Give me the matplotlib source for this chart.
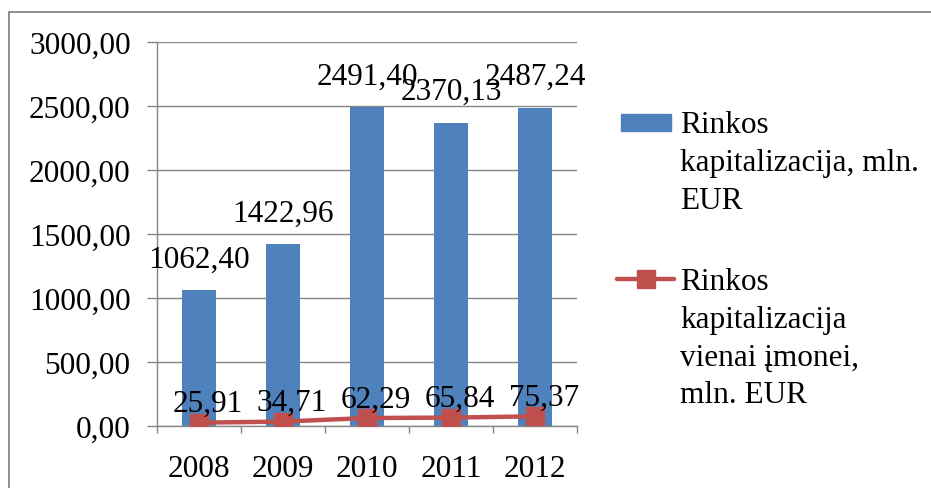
import matplotlib
matplotlib.use("Agg")
import matplotlib.pyplot as plt
from matplotlib.lines import Line2D
from matplotlib.patches import Rectangle
from matplotlib.ticker import FuncFormatter, FixedLocator
import numpy as np

years = ["2008", "2009", "2010", "2011", "2012"]
kapitalizacija = [1062.40, 1422.96, 2491.40, 2370.13, 2487.24]
vienai_imonei = [25.91, 34.71, 62.29, 65.84, 75.37]

label_bar = "Rinkos\nkapitalizacija, mln.\nEUR"
label_line = "Rinkos\nkapitalizacija\nvienai įmonei,\nmln. EUR"

blue = "#4F81BD"
red = "#C0504D"
grey = "#868686"
fs = 22.5

plt.rcParams["font.family"] = ["Liberation Serif", "DejaVu Serif"]


def lt(v):
    return f"{v:.2f}".replace(".", ",")


W, H = 931, 489
fig = plt.figure(figsize=(W / 100, H / 100), dpi=100)
ax = fig.add_axes([157 / W, 1 - 427 / H, (577 - 157) / W, (427 - 43) / H])

x = np.arange(len(years))
ax.bar(x, kapitalizacija, width=0.4, color=blue, zorder=2)
ax.plot(x, vienai_imonei, color=red, lw=3.2, marker="s", markersize=13.5,
        solid_capstyle="round", zorder=3)

for xi, v in zip(x, kapitalizacija):
    ax.annotate(lt(v), (xi, v), xytext=(0, 31), textcoords="offset pixels",
                ha="center", va="center", fontsize=fs, zorder=4)
for xi, v in zip(x, vienai_imonei):
    ax.annotate(lt(v), (xi, v), xytext=(9, 19), textcoords="offset pixels",
                ha="center", va="center", fontsize=fs, zorder=4)

ax.set_xlim(-0.5, len(years) - 0.5)
ax.set_ylim(0, 3000)
ax.set_yticks(np.arange(0, 3001, 500))
ax.yaxis.set_major_formatter(FuncFormatter(lambda v, p: lt(v)))
ax.tick_params(axis="y", length=7, width=1, color=grey, pad=12, labelsize=fs)
ax.yaxis.grid(True, color=grey, lw=1, zorder=0)
ax.set_axisbelow(True)

ax.set_xticks(x)
ax.set_xticklabels(years)
ax.xaxis.set_minor_locator(FixedLocator(np.arange(-0.5, len(years), 1)))
ax.tick_params(axis="x", which="major", length=0, pad=20, labelsize=fs)
ax.tick_params(axis="x", which="minor", length=5, width=1, color=grey)

for s in ["top", "right"]:
    ax.spines[s].set_visible(False)
for s in ["left", "bottom"]:
    ax.spines[s].set_color(grey)
    ax.spines[s].set_linewidth(1)

# outer chart border (only top and left edges are inside the picture)
fig.add_artist(Rectangle((9 / W, -0.2), 1.2, 1.2 - 13 / H,
                         transform=fig.transFigure, fill=False,
                         edgecolor=grey, lw=1.3, clip_on=False))

# legend
fig.add_artist(Rectangle((621 / W, 1 - 132 / H), 50 / W, 17 / H,
                         transform=fig.transFigure, color=blue))
fig.text(680 / W, 1 - 111 / H, label_bar, fontsize=fs, va="top",
         linespacing=1.4)
fig.add_artist(Line2D([617 / W, 674 / W], [1 - 280 / H] * 2,
                      transform=fig.transFigure, color=red, lw=3.2,
                      solid_capstyle="round"))
fig.add_artist(Line2D([645.5 / W], [1 - 280 / H], transform=fig.transFigure,
                      color=red, marker="s", markersize=13.5, lw=0))
fig.text(680 / W, 1 - 268 / H, label_line, fontsize=fs, va="top",
         linespacing=1.4)

fig.savefig("out.png", dpi=100)
